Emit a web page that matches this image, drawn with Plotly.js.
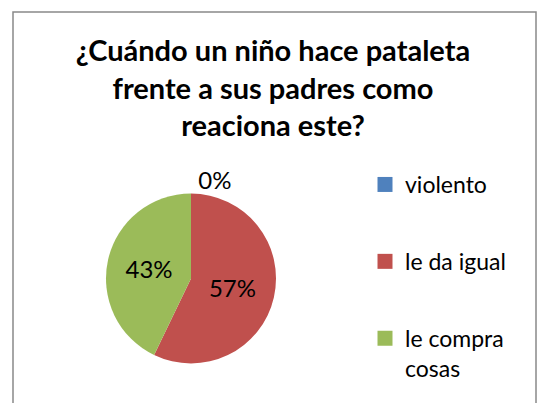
<!DOCTYPE html>
<html>
<head>
<meta charset="utf-8">
<script src="https://cdn.plot.ly/plotly-3.0.1.min.js"></script>
<style>html,body{margin:0;padding:0;background:#fff;}#chart{width:539px;height:403px;}</style>
</head>
<body>
<div id="chart"></div>
<script>
const categories = ["violento", "le da igual", "le compra cosas"];
const legendLabels = ["violento", "le da igual", "le compra<br>cosas"];
const values = [0, 4, 3];
const colors = ["#4F81BD", "#C0504D", "#9BBB59"];
const textPositions = ["outside", "inside", "inside"];
const titleText = "¿Cuándo un niño hace pataleta<br>frente a sus padres como<br>reaciona este?";

const W = 539, H = 403;
const FONT = "Lato, 'Open Sans', sans-serif";

const pie = {
  type: "pie",
  labels: categories,
  values: values,
  sort: false,
  direction: "clockwise",
  rotation: 0,
  marker: {colors: colors, line: {width: 0}},
  texttemplate: "%{percent:.0%}",
  textposition: textPositions,
  textfont: {family: FONT, size: 24, color: "#000"},
  insidetextorientation: "horizontal",
  showlegend: false,
  hoverinfo: "label+percent",
  domain: {x: [(191-85)/W, (191+85)/W], y: [1-364/H, 1-193/H]}
};

const legendTraces = categories.map((c, i) => ({
  type: "scatter",
  mode: "markers",
  x: [null], y: [null],
  name: legendLabels[i],
  legendgroup: "g" + i,
  marker: {symbol: "square", size: 15, color: colors[i]},
  showlegend: true,
  hoverinfo: "skip"
}));

const layout = {
  width: W, height: H,
  margin: {l: 0, r: 0, t: 0, b: 0},
  paper_bgcolor: "#fff",
  plot_bgcolor: "rgba(0,0,0,0)",
  font: {family: FONT, color: "#000"},
  title: {
    text: titleText,
    font: {family: FONT, size: 29, color: "#000", weight: "bold"},
    x: 273/W, xanchor: "center",
    y: 1 - 61/H, yanchor: "top", yref: "container"
  },
  xaxis: {visible: false, domain: [0.9, 0.95]},
  yaxis: {visible: false, domain: [0.9, 0.95]},
  legend: {
    x: 365/W, xanchor: "left",
    y: 1 - 163/H, yanchor: "top",
    font: {family: FONT, size: 23, color: "#000"},
    tracegroupgap: 44,
    valign: "top",
    bgcolor: "rgba(0,0,0,0)"
  },
  shapes: [{
    type: "rect", xref: "paper", yref: "paper",
    x0: 13/W, x1: 536/W, y0: -0.05, y1: 1 - 12/H,
    line: {color: "#898989", width: 1.5}
  }]
};

Plotly.newPlot("chart", [pie, ...legendTraces], layout, {displayModeBar: false, staticPlot: true});
</script>
</body>
</html>
